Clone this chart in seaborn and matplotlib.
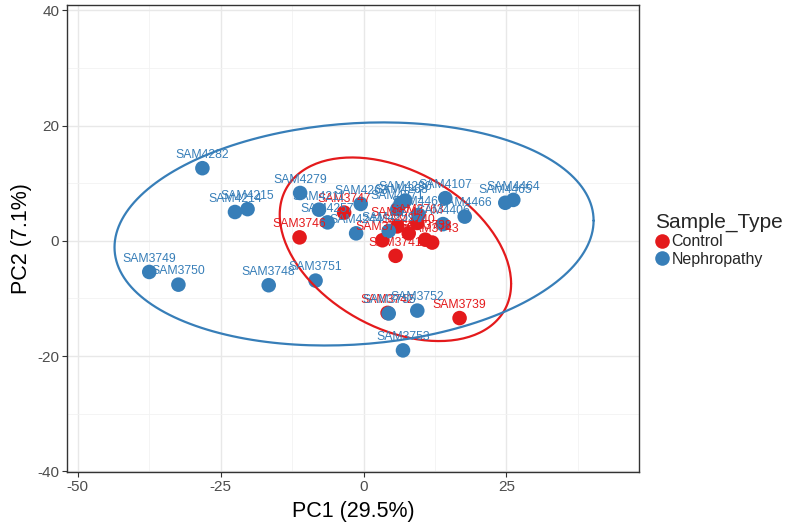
import numpy as np
import pandas as pd
import matplotlib
matplotlib.use("Agg")
import matplotlib.pyplot as plt
import seaborn as sns

# PCA scores
control_ids = ["SAM3746", "SAM3747", "SAM3745", "SAM3741", "SAM3744", "SAM3740",
               "SAM3763", "SAM3738", "SAM3743", "SAM3742", "SAM3739"]
control_pc1 = [-11.2, -3.4, 3.3, 5.6, 5.9, 7.9, 9.4, 10.8, 12.0, 4.2, 16.8]
control_pc2 = [0.6, 4.9, 0.1, -2.6, 2.5, 1.3, 3.1, 0.2, -0.3, -12.5, -13.4]

nephro_ids = ["SAM4282", "SAM4279", "SAM4214", "SAM4215", "SAM3749", "SAM3750",
              "SAM3748", "SAM3751", "SAM4211", "SAM4257", "SAM4263", "SAM4244",
              "SAM4280", "SAM4268", "SAM4271", "SAM4107", "SAM4466", "SAM4406",
              "SAM4465", "SAM4464", "SAM3752", "SAM3755", "SAM3753", "SAM4467",
              "SAM4259"]
nephro_pc1 = [-28.2, -11.1, -22.5, -20.3, -37.5, -32.4, -16.6, -8.4, -7.8, -6.3,
              -0.5, -1.3, 7.3, 6.5, 5.9, 14.3, 17.7, 13.9, 24.8, 26.2,
              9.4, 4.4, 6.9, 9.6, 4.4]
nephro_pc2 = [12.6, 8.3, 5.0, 5.5, -5.4, -7.6, -7.7, -6.9, 5.4, 3.2,
              6.4, 1.3, 7.0, 6.5, 5.5, 7.4, 4.2, 2.9, 6.6, 7.1,
              -12.1, -12.6, -19.0, 4.5, 1.7]

df = pd.concat([
    pd.DataFrame({"id": control_ids, "PC1": control_pc1, "PC2": control_pc2,
                  "Sample_Type": "Control"}),
    pd.DataFrame({"id": nephro_ids, "PC1": nephro_pc1, "PC2": nephro_pc2,
                  "Sample_Type": "Nephropathy"}),
], ignore_index=True)

palette = {"Control": "#E41A1C", "Nephropathy": "#377EB8"}


def ellipse_xy(x, y, level=0.93, segments=200):
    # confidence ellipse, ggplot2 stat_ellipse style (level tuned to look like type="t")
    pts = np.column_stack([x, y])
    center = pts.mean(axis=0)
    cov = np.cov(pts.T)
    dfd = len(pts) - 1
    fq = dfd / 2 * ((1 - level) ** (-2 / dfd) - 1)  # qf(level, 2, dfd)
    radius = np.sqrt(2 * fq)
    chol = np.linalg.cholesky(cov)
    t = np.linspace(0, 2 * np.pi, segments + 1)
    unit = np.column_stack([np.cos(t), np.sin(t)])
    return center + radius * unit @ chol.T


sns.set_theme(style="whitegrid")
plt.rcParams["font.family"] = ["Liberation Sans", "DejaVu Sans"]
plt.rcParams["axes.unicode_minus"] = False

fig = plt.figure(figsize=(7.86, 5.28), dpi=100)
ax = fig.add_axes([0.0852, 0.106, 0.7278, 0.8845])

sns.scatterplot(data=df, x="PC1", y="PC2", hue="Sample_Type", palette=palette,
                s=110, linewidth=0, alpha=1, ax=ax, zorder=3)

for grp, sub in df.groupby("Sample_Type"):
    ex = ellipse_xy(sub["PC1"].values, sub["PC2"].values)
    ax.plot(ex[:, 0], ex[:, 1], color=palette[grp], lw=1.6, zorder=4)
    for _, r in sub.iterrows():
        ax.annotate(r["id"], (r["PC1"], r["PC2"]), xytext=(0, 9.5),
                    textcoords="offset points", ha="center", va="center",
                    fontsize=8.8, color=palette[grp], zorder=5)

ax.set_xlim(-51.9, 48.2)
ax.set_ylim(-40.1, 40.9)
ax.set_xticks([-50, -25, 0, 25])
ax.set_yticks([-40, -20, 0, 20, 40])
ax.set_xticks([-37.5, -12.5, 12.5, 37.5], minor=True)
ax.set_yticks([-30, -10, 10, 30], minor=True)
ax.grid(which="major", color="#E8E8E8", lw=1.0)
ax.grid(which="minor", color="#F2F2F2", lw=0.6)
ax.set_axisbelow(True)
ax.set_facecolor("white")
for sp in ax.spines.values():
    sp.set_color("#333333")
    sp.set_linewidth(1.0)

ax.tick_params(axis="both", which="major", length=3.5, width=0.8, color="#333333",
               labelsize=11, labelcolor="#4D4D4D", pad=2, bottom=True, left=True)
ax.tick_params(axis="both", which="minor", length=0)
ax.set_xlabel("PC1 (29.5%)", fontsize=15.5, color="black", labelpad=5)
ax.set_ylabel("PC2 (7.1%)", fontsize=15.5, color="black", labelpad=4)

handles, labels = ax.get_legend_handles_labels()
ax.legend_.remove()
leg = fig.legend(handles, labels, title="Sample_Type", loc="center left",
                 bbox_to_anchor=(0.823, 0.546), frameon=False, fontsize=11.5,
                 title_fontsize=15, handletextpad=0.15, handlelength=0.9,
                 labelspacing=0.15, borderpad=0, markerscale=1.0)
leg._legend_box.align = "left"

fig.savefig("out.png", dpi=100)
